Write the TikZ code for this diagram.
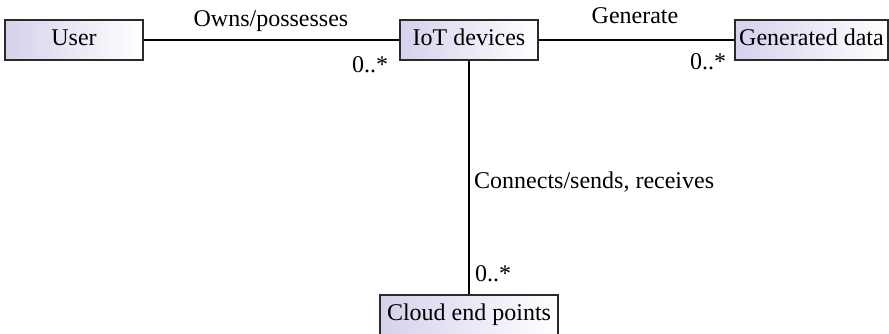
\documentclass[tikz,border=0pt]{standalone}
\usepackage{fontspec}
\setmainfont{Liberation Serif}
\definecolor{boxl}{HTML}{D4D2EC}
\definecolor{edge}{HTML}{2A2A2A}
\begin{document}
\begin{tikzpicture}[x=1pt,y=1pt,
  every node/.style={font=\fontsize{24}{28}\selectfont, inner sep=0pt},
  umlbox/.style={draw=edge, line width=1.4pt, left color=boxl, right color=white, minimum height=40pt, text height=16pt, text depth=5pt},
  conn/.style={draw=black, line width=1.1pt},
  lbl/.style={anchor=base west}]
\useasboundingbox (0,0) rectangle (889,-334);
\clip (0,0) rectangle (889,-334);
\node[umlbox, minimum width=138pt] (user) at (74,-40) {User};
\node[umlbox, minimum width=138pt] (iot) at (469,-40) {IoT devices};
\node[umlbox, minimum width=153pt] (gen) at (811.5,-40) {Generated data};
\node[umlbox, minimum width=178pt] (cloud) at (469,-315) {Cloud end points};
\draw[conn] (user.east) -- (iot.west);
\draw[conn] (iot.east) -- (gen.west);
\draw[conn] (iot.south) -- (cloud.north);
\node[anchor=base] (owns) at (271,-27) {Owns/possesses};
\node[lbl] (m1) at (352,-73) {0..*};
\node[anchor=base] (genl) at (635,-24) {Generate};
\node[lbl] (m2) at (690,-70) {0..*};
\node[lbl] (conl) at (474,-188) {Connects/sends, receives};
\node[lbl] (m3) at (475,-281) {0..*};
\end{tikzpicture}
\end{document}
